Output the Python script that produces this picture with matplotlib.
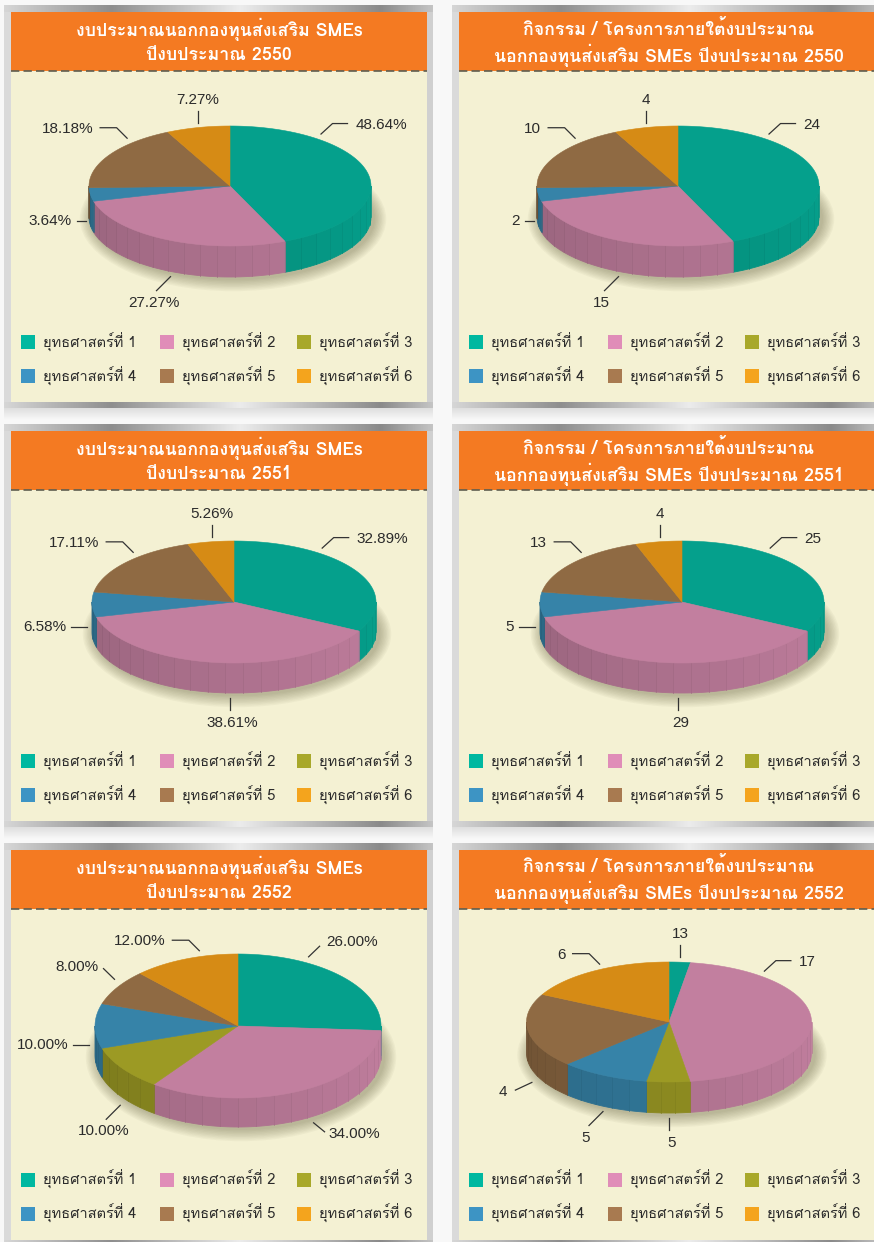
import numpy as np
import matplotlib
matplotlib.use('Agg')
import matplotlib.pyplot as plt
from matplotlib.patches import Polygon, Rectangle, Ellipse
from matplotlib.colors import to_rgb, LinearSegmentedColormap
from matplotlib import font_manager

# ---- data ----
strategies = ['ยุทธศาสตร์ที่ 1', 'ยุทธศาสตร์ที่ 2', 'ยุทธศาสตร์ที่ 3',
              'ยุทธศาสตร์ที่ 4', 'ยุทธศาสตร์ที่ 5', 'ยุทธศาสตร์ที่ 6']
years = ['2550', '2551', '2552']
title_budget = ['งบประมาณนอกกองทุนส่งเสริม SMEs', 'ปีงบประมาณ {}']
title_projects = ['กิจกรรม / โครงการภายใต้งบประมาณ', 'นอกกองทุนส่งเสริม SMEs ปีงบประมาณ {}']

# slice sizes (strategy 1..6) as drawn in each pie
budget_2550 = [24, 15, 0, 2, 10, 4]
projects_2550 = [24, 15, 0, 2, 10, 4]
budget_2551 = [25, 29, 0, 5, 13, 4]
projects_2551 = [25, 29, 0, 5, 13, 4]
budget_2552 = [26, 34, 10, 10, 8, 12]
projects_2552 = [2.4, 45.2, 4.9, 10.1, 19.9, 17.4]

# printed labels
budget_2550_lbl = ['48.64%', '27.27%', '', '3.64%', '18.18%', '7.27%']
projects_2550_lbl = ['24', '15', '', '2', '10', '4']
budget_2551_lbl = ['32.89%', '38.61%', '', '6.58%', '17.11%', '5.26%']
projects_2551_lbl = ['25', '29', '', '5', '13', '4']
budget_2552_lbl = ['26.00%', '34.00%', '10.00%', '10.00%', '8.00%', '12.00%']
projects_2552_lbl = ['13', '17', '5', '5', '4', '6']

values = [budget_2550, projects_2550, budget_2551, projects_2551, budget_2552, projects_2552]
labels = [budget_2550_lbl, projects_2550_lbl, budget_2551_lbl, projects_2551_lbl,
          budget_2552_lbl, projects_2552_lbl]

# ---- styles / layout ----
TOP_COLORS = ['#05a08c', '#c27f9f', '#9c9a24', '#3683a8', '#8f6a43', '#d68b15']
LEG_COLORS = ['#00b8a0', '#e08db8', '#a8a82a', '#3d94c4', '#a87a50', '#f4a41d']
ORANGE = '#f47a22'
CREAM = '#f4f1d3'
TEXT = '#2b2b2b'

ROW_TOP = [12, 431, 849.5]
COLS = [(11, 427), (459, 878)]
BAR_H = 59
CREAM_H = 331

PIE_C = [(230, 186), (678, 186), (234, 602), (682, 602), (238, 1026), (669, 1022)]
PIE_R = [(141, 60, 31), (141, 60, 31), (142, 61, 30), (142, 61, 30), (143, 72, 29), (142.5, 60, 31)]

LAYOUT_A = [(36.7, 'ne2'), (203, 'sw'), None, (260, 'w1'), (317.5, 'nw2'), (347.8, 'n')]
LAYOUT_B = [(35.1, 'ne2'), (181.6, 's'), None, (265, 'w2'), (318.9, 'nw2'), (351.8, 'n')]
LAYOUT_C = [(27.2, 'ne1'), (150.7, 'se'), (229.7, 'sw'), (268, 'w2'), (306.9, 'nw1'), (345.5, 'nw2')]
LAYOUT_D = [(4.2, 'n'), (38.3, 'ne2'), (180, 's'), (205.4, 'sw'), (243, 'wsw'), (333.2, 'nw2')]
LAYOUTS = [LAYOUT_A, LAYOUT_A, LAYOUT_B, LAYOUT_B, LAYOUT_C, LAYOUT_D]

# leader segments, text offset, alignment
KINDS = {
    'ne2': ([(11.5, -10.5), (15, 0)], (8, 1.5), 'left'),
    'nw2': ([(-10.5, -10.5), (-16.5, 0)], (-7, 1), 'right'),
    'n': ([(0, -12)], (0, -11), 'center'),
    's': ([(0, 12)], (3, 13), 'center'),
    'sw': ([(-14, 14)], (-3, 12), 'center'),
    'se': ([(11, 9)], (4, 2), 'left'),
    'ne1': ([(11, -10.6)], (7, -4), 'left'),
    'nw1': ([(-11, -10.7)], (-5, -2), 'right'),
    'w1': ([(-9, 0)], (-5, 0), 'right'),
    'w2': ([(-16, 0)], (-5, 0), 'right'),
    'wsw': ([(-16.5, 7.7)], (-8, 1.7), 'right'),
}


def find_thai_font():
    try:
        from fontTools.ttLib import TTFont
    except Exception:
        return None
    for f in font_manager.fontManager.ttflist:
        try:
            cmap = TTFont(f.fname, fontNumber=0, lazy=True).getBestCmap()
        except Exception:
            continue
        if cmap and 0x0E22 in cmap and 0x0E17 in cmap and 0x0E38 in cmap:
            return f.name
    return None


thai = find_thai_font()
THAI_FAM = ([thai] if thai else []) + ['Liberation Sans', 'DejaVu Sans']
NUM_FAM = ['Liberation Sans'] + ([thai] if thai else []) + ['DejaVu Sans']

W, H = 874, 1242
fig = plt.figure(figsize=(W / 100, H / 100), dpi=100)
fig.patch.set_facecolor('#f8f8f8')
ax = fig.add_axes([0, 0, 1, 1])
ax.set_xlim(0, W)
ax.set_ylim(H, 0)
ax.axis('off')

frame_cmap = LinearSegmentedColormap.from_list(
    'frame', [(0, '#d6d6d6'), (0.25, '#8e8e8e'), (0.55, '#ececec'), (0.88, '#8a8a8a'), (1, '#c4c4c4')])
grad = np.linspace(0, 1, 256)[None, :]
shadow = np.zeros((20, 1, 4))
shadow[:, 0, :3] = 0.75
shadow[:, 0, 3] = np.linspace(0.45, 0, 20)


def draw_pie(values, cx, cy, rx, ry, depth):
    vals = np.array(values, float)
    edges = np.concatenate([[0], np.cumsum(vals) / vals.sum() * 360])
    # soft shadow under the pie
    for i in range(9):
        ax.add_patch(Ellipse((cx + 3, cy + depth + 2), 2 * (rx + 1 + i * 1.4), 2 * (ry + 1 + i * 1.4),
                             fc='#4d4a2a', alpha=0.045, lw=0, zorder=2))
    for k in range(len(vals)):
        a0, a1 = edges[k], edges[k + 1]
        if a1 - a0 <= 0:
            continue
        s0, s1 = max(a0, 90), min(a1, 270)
        if s1 > s0:
            n = max(int(np.ceil((s1 - s0) / 7.5)), 1)
            steps = np.linspace(s0, s1, n + 1)
            for t0, t1 in zip(steps[:-1], steps[1:]):
                t = np.radians(np.linspace(t0, t1, 6))
                xs = cx + rx * np.sin(t)
                ys = cy - ry * np.cos(t)
                pts = np.column_stack([np.r_[xs, xs[::-1]], np.r_[ys, ys[::-1] + depth]])
                shade = 1 - 0.22 * ((t0 + t1) / 2 - 90) / 180
                col = np.clip(np.array(to_rgb(TOP_COLORS[k])) * shade, 0, 1)
                ax.add_patch(Polygon(pts, closed=True, fc=col, ec=col, lw=0.6, zorder=3))
                ax.plot([xs[0], xs[0]], [ys[0], ys[0] + depth], color=col * 0.94, lw=0.5, zorder=3.5)
        t = np.radians(np.linspace(a0, a1, max(int(a1 - a0), 2) + 1))
        pts = np.column_stack([np.r_[cx, cx + rx * np.sin(t)], np.r_[cy, cy - ry * np.cos(t)]])
        ax.add_patch(Polygon(pts, closed=True, fc=TOP_COLORS[k], ec=TOP_COLORS[k], lw=0.4, zorder=4))


def draw_labels(texts, layout, cx, cy, rx, ry, depth):
    for txt, spec in zip(texts, layout):
        if spec is None or txt == '':
            continue
        theta, kind = spec
        segs, (tx, ty), ha = KINDS[kind]
        k = 1.04 if kind in ('w1', 'w2') else 1.08
        th = np.radians(theta)
        x = cx + k * rx * np.sin(th)
        y = cy - k * ry * np.cos(th) + depth * np.clip(0.5 - 1.7 * np.cos(th), 0, 1)
        xs, ys = [x], [y]
        for dx, dy in segs:
            xs.append(xs[-1] + dx)
            ys.append(ys[-1] + dy)
        ax.plot(xs, ys, color='#333333', lw=0.9, zorder=6)
        ax.text(xs[-1] + tx, ys[-1] + ty, txt, ha=ha, va='center', fontsize=11,
                color=TEXT, family=NUM_FAM, zorder=7)


for idx in range(6):
    r, c = divmod(idx, 2)
    x0, x1 = COLS[c]
    top = ROW_TOP[r]
    bottom = top + BAR_H + CREAM_H
    # frame
    ax.imshow(grad, cmap=frame_cmap, aspect='auto', extent=(x0 - 7, x1 + 6, bottom + 6.5, top - 6.5), zorder=0)
    ax.add_patch(Rectangle((x0 - 7, top), 7, bottom - top, fc='#dadada', lw=0, zorder=0.5))
    ax.add_patch(Rectangle((x1, top), 6, bottom - top, fc='#d0d0d0', lw=0, zorder=0.5))
    ax.imshow(shadow, aspect='auto', extent=(x0 - 7, x1 + 6, bottom + 18, bottom + 6.5), zorder=0)
    # title bar and body
    ax.add_patch(Rectangle((x0, top), x1 - x0, BAR_H, fc=ORANGE, lw=0, zorder=1))
    ax.add_patch(Rectangle((x0, top + BAR_H), x1 - x0, CREAM_H, fc=CREAM, lw=0, zorder=1))
    ax.plot([x0, x1], [top + BAR_H, top + BAR_H], color='#5e5e50', lw=1.2,
            ls=(0, (5, 2.5)), zorder=1.5)
    t1, t2 = title_budget if c == 0 else title_projects
    xm = (x0 + x1) / 2
    ax.text(xm, top + 17.5, t1, ha='center', va='center', color='white', fontsize=12.8,
            fontweight='bold', family=THAI_FAM, zorder=2)
    ax.text(xm, top + 43, t2.format(years[r]), ha='center', va='center', color='white', fontsize=12.8,
            fontweight='bold', family=THAI_FAM, zorder=2)
    # pie
    cx, cy = PIE_C[idx]
    rx, ry, depth = PIE_R[idx]
    draw_pie(values[idx], cx, cy, rx, ry, depth)
    draw_labels(labels[idx], LAYOUTS[idx], cx, cy, rx, ry, depth)
    # legend
    for j, name in enumerate(strategies):
        lx = x0 + [10, 149, 286][j % 3]
        ly = top + [330, 364][j // 3]
        ax.add_patch(Rectangle((lx, ly - 7), 14, 14, fc=LEG_COLORS[j], lw=0, zorder=5))
        ax.text(lx + 22, ly, name, ha='left', va='center', fontsize=10.5, color=TEXT,
                family=THAI_FAM, zorder=5)

ax.set_xlim(0, W)
ax.set_ylim(H, 0)
fig.savefig('out.png', dpi=100, facecolor=fig.get_facecolor())
